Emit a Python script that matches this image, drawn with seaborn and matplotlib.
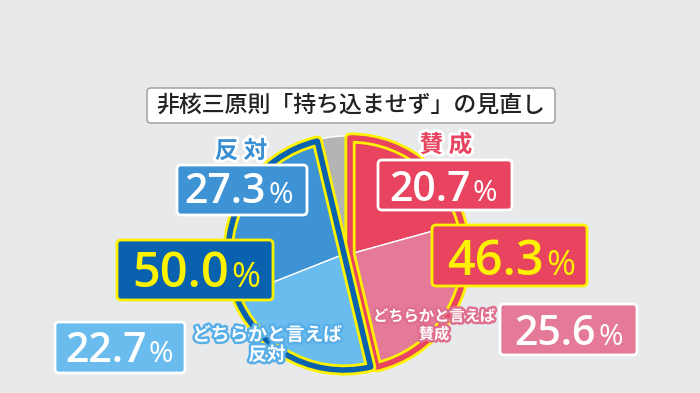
import matplotlib
matplotlib.use("Agg")
import matplotlib.pyplot as plt
import matplotlib.patheffects as pe
from matplotlib.patches import FancyBboxPatch
import seaborn as sns

# ── data ────────────────────────────────────────────────────────
TITLE = "非核三原則「持ち込ませず」の見直し"

AGREE_LABELS = ["賛 成", "どちらかと言えば\n賛成"]
AGREE_VALUES = [20.7, 25.6]
AGREE_TOTAL = 46.3

OPPOSE_LABELS = ["どちらかと言えば\n反対", "反 対"]
OPPOSE_VALUES = [22.7, 27.3]
OPPOSE_TOTAL = 50.0

OTHER_VALUE = 3.7

# ── colours ─────────────────────────────────────────────────────
BG = "#e8e9eb"
RED = "#e8435f"
PINK = "#e57a98"
BLUE = "#3d93d4"
LIGHT_BLUE = "#6bbcee"
DARK_BLUE = "#0a62ae"
YELLOW = "#fff200"
GRAY = "#b4b4b4"

sns.set_theme(style="white")
plt.rcParams["font.family"] = ["Noto Sans CJK JP", "DejaVu Sans"]
NUM_FONT = ["Open Sans", "DejaVu Sans"]

W, H = 700, 393
fig = plt.figure(figsize=(7, 3.93), dpi=100, facecolor=BG)
ax = fig.add_axes([0, 0, 1, 1])
ax.set_facecolor(BG)


def Y(py):
    # pixel row -> data y
    return H - py


CX, CY = 347, Y(254)
R = 116


def draw_group(values, colors, before, band, dx):
    start = 90 - 360 * before / 100
    rest = 100 - sum(values)
    c = (CX + dx, CY)
    wedges, _ = ax.pie(values + [rest], colors=colors + ["none"],
                       startangle=start, counterclock=False, radius=R, center=c,
                       wedgeprops=dict(edgecolor="white", linewidth=1))
    wedges[-1].set_visible(False)
    for col, lw in [(YELLOW, 8), (band, 4)]:
        w, _ = ax.pie([sum(values), rest], colors=["none", "none"],
                      startangle=start, counterclock=False, radius=R, center=c,
                      wedgeprops=dict(edgecolor=col, linewidth=lw, joinstyle="round"))
        w[-1].set_visible(False)


# gray remainder wedge
g, _ = ax.pie([OTHER_VALUE, 100 - OTHER_VALUE], colors=[GRAY, "none"],
              startangle=90 - 360 * (AGREE_TOTAL + OPPOSE_TOTAL) / 100,
              counterclock=False, radius=R + 2, center=(CX, CY))
g[-1].set_visible(False)

draw_group(AGREE_VALUES, [RED, PINK], 0, RED, 3)
draw_group(OPPOSE_VALUES, [LIGHT_BLUE, BLUE], AGREE_TOTAL, DARK_BLUE, -3)


def value_box(value, box, num_right, base, size, face, edge, txt):
    x0, y0, x1, y1 = box
    ax.add_patch(FancyBboxPatch((x0, Y(y1)), x1 - x0, y1 - y0,
                                boxstyle="round,pad=0,rounding_size=4",
                                facecolor=face, edgecolor=edge, linewidth=2,
                                zorder=5))
    ax.text(num_right, Y(base), f"{value:.1f}", ha="right", va="baseline",
            fontsize=size, fontweight="semibold", family=NUM_FONT,
            color=txt, zorder=6)
    ax.text(num_right + 2, Y(base), "%", ha="left", va="baseline",
            fontsize=size * 0.72, fontweight="normal", family=NUM_FONT,
            color=txt, zorder=6)


value_box(OPPOSE_VALUES[1], (177, 165, 307, 215), 266, 203, 29.5, BLUE, "white", "white")
value_box(AGREE_VALUES[0], (378, 160, 512, 210), 471, 201, 29.5, RED, "white", "white")
value_box(OPPOSE_TOTAL, (117, 240, 273, 300), 229, 287, 35, DARK_BLUE, YELLOW, YELLOW)
value_box(OPPOSE_VALUES[0], (55, 322, 185, 373), 147, 362, 29.5, LIGHT_BLUE, "white", "white")
value_box(AGREE_TOTAL, (432, 225, 587, 286), 544, 275, 35, RED, YELLOW, YELLOW)
value_box(AGREE_VALUES[1], (500, 304, 637, 355), 596, 345, 29.5, PINK, "white", "white")

# category labels
ax.text(241, Y(151), OPPOSE_LABELS[1], ha="center", va="center", fontsize=17,
        fontweight="bold", color="#3a8fd2", zorder=7,
        path_effects=[pe.withStroke(linewidth=4, foreground="white")])
ax.text(446, Y(145), AGREE_LABELS[0], ha="center", va="center", fontsize=17,
        fontweight="bold", color=RED, zorder=7,
        path_effects=[pe.withStroke(linewidth=4, foreground="white")])
ax.text(267, Y(345), OPPOSE_LABELS[0], ha="center", va="center", fontsize=13.5,
        fontweight="bold", color="white", linespacing=1.05, zorder=7,
        path_effects=[pe.withStroke(linewidth=3.5, foreground="#58aee6")])
ax.text(434, Y(325), AGREE_LABELS[1], ha="center", va="center", fontsize=11,
        fontweight="bold", color="white", linespacing=1.15, zorder=7,
        path_effects=[pe.withStroke(linewidth=3.5, foreground="#df6f8e")])

# title
ax.add_patch(FancyBboxPatch((147, Y(123)), 408, 35,
                            boxstyle="round,pad=0,rounding_size=4",
                            facecolor="white", edgecolor="#9a9a9a", linewidth=1,
                            zorder=5))
ax.text(351, Y(105), TITLE, ha="center", va="center", fontsize=16.5,
        fontweight="medium", color="#222222", zorder=6)

ax.set_xlim(0, W)
ax.set_ylim(0, H)
ax.set_aspect("equal")
ax.axis("off")

fig.savefig("out.png", dpi=100, facecolor=BG)
